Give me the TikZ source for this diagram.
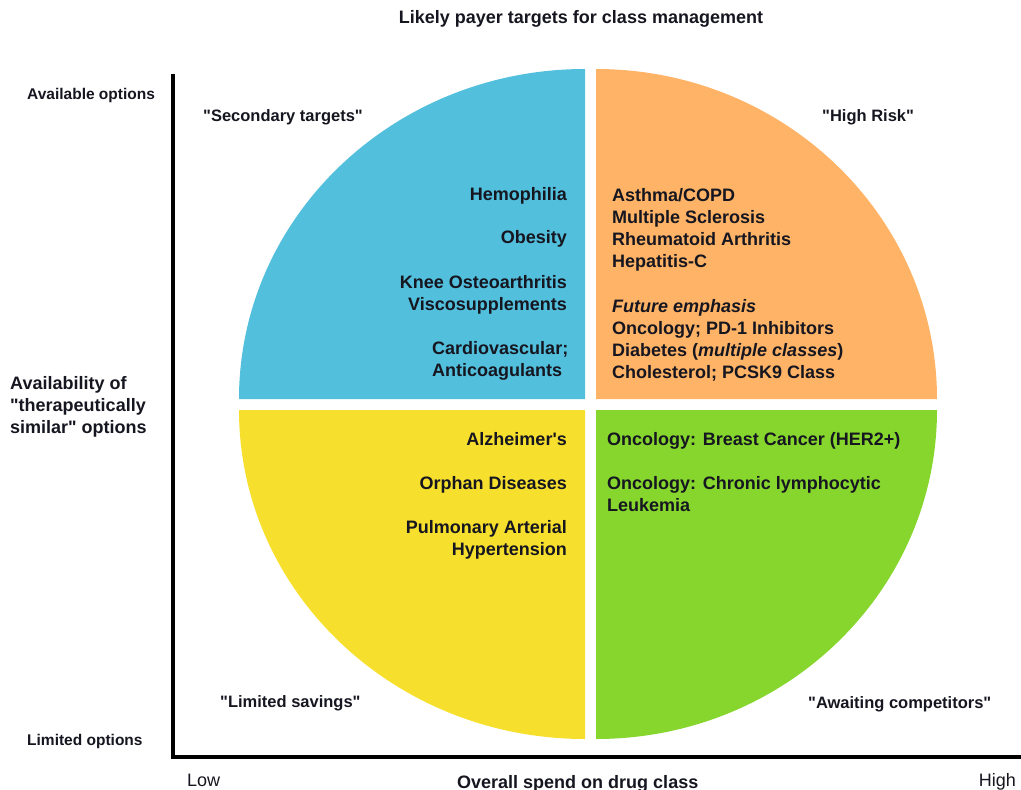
\documentclass[tikz,border=0pt]{standalone}
\usepackage{fontspec}
\setmainfont{Liberation Sans}[Ligatures=TeXOff]
\begin{document}
\definecolor{ink}{RGB}{22,22,32}
\definecolor{qblue}{RGB}{82,191,220}
\definecolor{qorange}{RGB}{255,179,102}
\definecolor{qyellow}{RGB}{247,224,45}
\definecolor{qgreen}{RGB}{134,214,46}
\begin{tikzpicture}[x=1pt,y=-1pt,
  every node/.style={inner sep=0pt, text=ink},
  item/.style={font=\fontsize{18}{22}\selectfont\bfseries},
  quadlabel/.style={font=\fontsize{16.5}{20}\selectfont\bfseries},
  axislabel/.style={font=\fontsize{15.5}{19}\selectfont\bfseries},
  scalelabel/.style={font=\fontsize{18}{22}\selectfont},
  axisline/.style={line width=4pt, draw=black, miter limit=10}]
\useasboundingbox (0,0) rectangle (1021,790);

% quadrants of the class map
\fill[qblue]   (585,399) -- (239,399) arc[start angle=180, end angle=270, x radius=346, y radius=330] -- cycle;
\fill[qorange] (596,399) -- (596,69)  arc[start angle=270, end angle=360, x radius=341, y radius=330] -- cycle;
\fill[qyellow] (585,410) -- (239,410) arc[start angle=180, end angle=90,  x radius=346, y radius=329] -- cycle;
\fill[qgreen]  (596,410) -- (937,410) arc[start angle=0,   end angle=90,  x radius=341, y radius=329] -- cycle;

% axes
\coordinate (ytop) at (173,74);
\coordinate (origin) at (173,757);
\coordinate (xend) at (1021,757);
\draw[axisline] (ytop) -- (origin) -- (xend);

% title
\node[item, anchor=base] (title) at (581,23) {Likely payer targets for class management};

% vertical axis labels (multi-line nodes are anchored on their last baseline)
\node[axislabel, anchor=base west] (avail) at (27,99) {Available options};
\node[axislabel, anchor=base west] (limited) at (27,745) {Limited options};
\node[item, anchor=base west, align=left] (ylabel) at (10,433)
  {Availability of\\"therapeutically\\similar" options};

% horizontal axis labels
\node[scalelabel, anchor=base west] (low) at (187,786) {Low};
\node[scalelabel, anchor=base east] (high) at (1016,786) {High};
\node[item, anchor=base west] (xlabel) at (457,788) {Overall spend on drug class};

% quadrant captions
\node[quadlabel, anchor=base west] (secondary) at (203,121) {"Secondary targets"};
\node[quadlabel, anchor=base west] (highrisk) at (822,121) {"High Risk"};
\node[quadlabel, anchor=base west] (savings) at (220,707) {"Limited savings"};
\node[quadlabel, anchor=base west] (awaiting) at (808,708) {"Awaiting competitors"};

% secondary targets
\node[item, anchor=base east] (hemo) at (567,200) {Hemophilia};
\node[item, anchor=base east] (obesity) at (567,243) {Obesity};
\node[item, anchor=base east, align=right] (knee) at (567,310) {Knee Osteoarthritis\\Viscosupplements};
\node[item, anchor=base west, align=left] (cardio) at (432,376) {Cardiovascular;\\Anticoagulants};

% high risk
\node[item, anchor=base west, align=left] (current) at (612,267)
  {Asthma/COPD\\Multiple Sclerosis\\Rheumatoid Arthritis\\Hepatitis-C};
\node[item, anchor=base west, align=left] (future) at (612,378)
  {\textit{Future emphasis}\\Oncology; PD-1 Inhibitors\\Diabetes (\textit{multiple classes})\\Cholesterol; PCSK9 Class};

% limited savings
\node[item, anchor=base east] (alz) at (567,445) {Alzheimer's};
\node[item, anchor=base east] (orphan) at (567,489) {Orphan Diseases};
\node[item, anchor=base east, align=right] (pah) at (567,555) {Pulmonary Arterial\\Hypertension};

% awaiting competitors
\node[item, anchor=base west] (her2) at (607,445) {Oncology: Breast Cancer (HER2+)};
\node[item, anchor=base west, align=left] (cll) at (607,511) {Oncology: Chronic lymphocytic\\Leukemia};
\end{tikzpicture}
\end{document}
